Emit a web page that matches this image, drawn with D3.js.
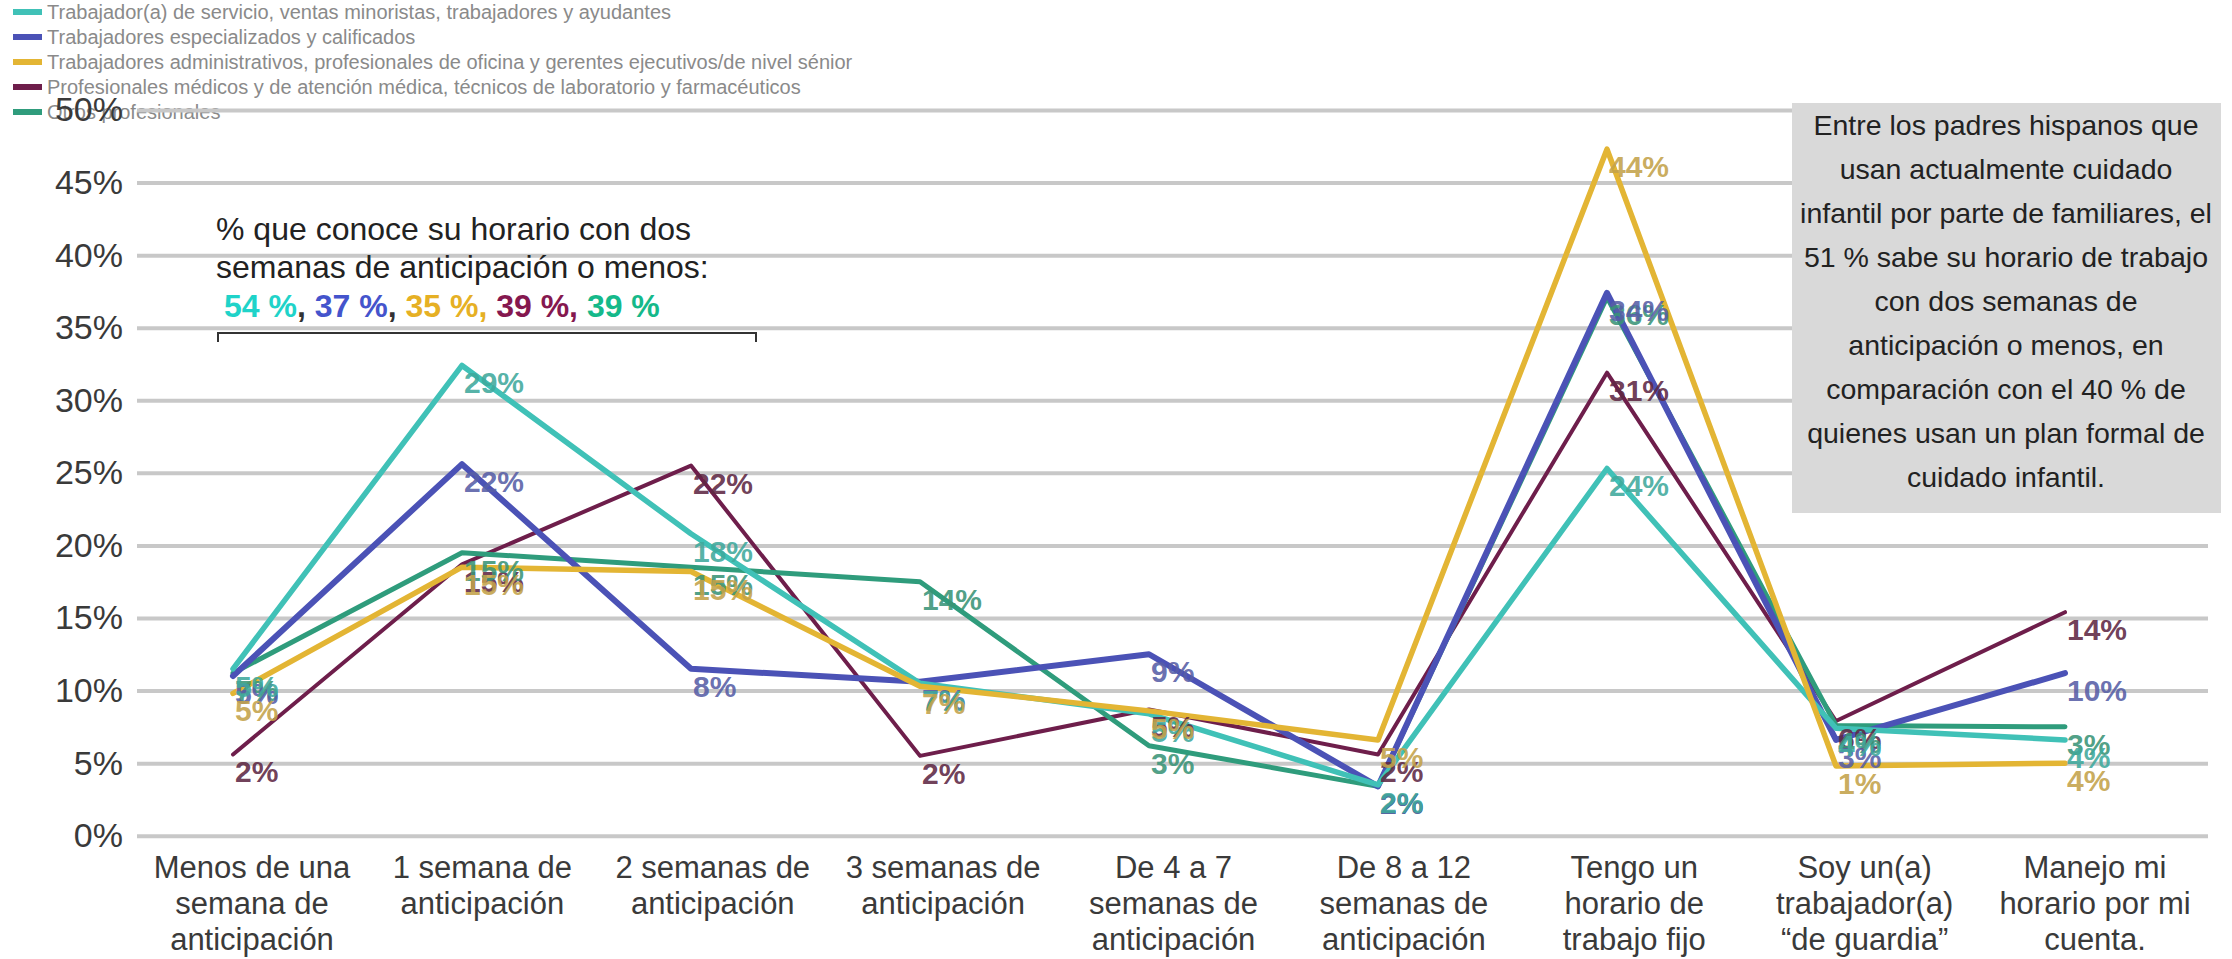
<!DOCTYPE html>
<html>
<head>
<meta charset="utf-8">
<script src="https://cdn.jsdelivr.net/npm/d3@7"></script>
<style>
  body { margin: 0; background: #fff; }
  svg { display: block; font-family: "Liberation Sans", Arial, sans-serif; }
</style>
</head>
<body>
<div id="chart"></div>
<script>
// categories (x axis), one array of lines per label
const categories = [
  ["Menos de una", "semana de", "anticipación"],
  ["1 semana de", "anticipación"],
  ["2 semanas de", "anticipación"],
  ["3 semanas de", "anticipación"],
  ["De 4 a 7", "semanas de", "anticipación"],
  ["De 8 a 12", "semanas de", "anticipación"],
  ["Tengo un", "horario de", "trabajo fijo"],
  ["Soy un(a)", "trabajador(a)", "“de guardia”"],
  ["Manejo mi", "horario por mi", "cuenta."]
];

const seriesNames = [
  "Trabajador(a) de servicio, ventas minoristas, trabajadores y ayudantes",
  "Trabajadores especializados y calificados",
  "Trabajadores administrativos, profesionales de oficina y gerentes ejecutivos/de nivel sénior",
  "Profesionales médicos y de atención médica, técnicos de laboratorio y farmacéuticos",
  "Otros profesionales"
];

// plotted values (%)
const serviceValues = [11.5, 32.4, 20.8, 10.5, 8.4, 3.5, 25.3, 7.4, 6.6];
const skilledValues = [11.0, 25.6, 11.5, 10.6, 12.5, 3.4, 37.4, 6.6, 11.2];
const adminValues   = [9.8, 18.5, 18.2, 10.3, 8.6, 6.6, 47.3, 4.8, 5.0];
const medicalValues = [5.6, 18.7, 25.5, 5.5, 8.7, 5.6, 31.9, 7.9, 15.4];
const otherValues   = [11.2, 19.5, 18.5, 17.5, 6.2, 3.4, 37.1, 7.6, 7.5];

// data labels as printed on the chart
const serviceLabels = ["5%", "29%", "18%", "7%", "5%", "2%", "24%", "4%", "4%"];
const skilledLabels = ["5%", "22%", "8%", "7%", "9%", "2%", "34%", "3%", "10%"];
const adminLabels   = ["5%", "15%", "15%", "7%", "5%", "5%", "44%", "1%", "4%"];
const medicalLabels = ["2%", "15%", "22%", "2%", "5%", "2%", "31%", "6%", "14%"];
const otherLabels   = ["7%", "15%", "15%", "14%", "3%", "2%", "36%", "4%", "3%"];

const yTicks = [0, 5, 10, 15, 20, 25, 30, 35, 40, 45, 50];

const noteLines = ["% que conoce su horario con dos", "semanas de anticipación o menos:"];
const notePercents = ["54 %", "37 %", "35 %", "39 %", "39 %"];

const boxLines = [
  "Entre los padres hispanos que",
  "usan actualmente cuidado",
  "infantil por parte de familiares, el",
  "51 % sabe su horario de trabajo",
  "con dos semanas de",
  "anticipación o menos, en",
  "comparación con el 40 % de",
  "quienes usan un plan formal de",
  "cuidado infantil."
];

const lineColors  = ["#40c1b7", "#4b52b6", "#e3b534", "#6e1e4b", "#2f9c7c"];
const labelColors = ["#3fa99c", "#575ea6", "#c3a24a", "#5e2844", "#3a9477"];
const noteColors  = ["#1fd3c9", "#4454cc", "#e6b024", "#85184f", "#15b98a"];
const strokeW     = [5.5, 6, 5.5, 4, 5];

const series = [
  { values: serviceValues, labels: serviceLabels },
  { values: skilledValues, labels: skilledLabels },
  { values: adminValues,   labels: adminLabels },
  { values: medicalValues, labels: medicalLabels },
  { values: otherValues,   labels: otherLabels }
].map((s, i) => ({ ...s, name: seriesNames[i], idx: i }));

const width = 2232, height = 959;
const svg = d3.select("#chart").append("svg")
  .attr("width", width).attr("height", height);

const x = d3.scalePoint().domain(d3.range(categories.length)).range([233, 2065]);
// category text sits a little right of the points in the original
const xLabel = d3.scalePoint().domain(d3.range(categories.length)).range([252, 2095]);
const y = d3.scaleLinear().domain([0, 50]).range([835.7, 110]);

// gridlines + y labels
const gridLeft = 137, gridRight = 2208;
const yAxis = svg.append("g")
  .attr("transform", `translate(${gridLeft},0)`)
  .call(d3.axisLeft(y).tickValues(yTicks)
    .tickSize(-(gridRight - gridLeft)).tickPadding(14)
    .tickFormat(d => d + "%"));
yAxis.select(".domain").remove();
yAxis.selectAll(".tick line").attr("stroke", "#c8c8c8").attr("stroke-width", 4);
yAxis.selectAll(".tick text")
  .attr("font-size", 34).attr("fill", "#3a3a3a")
  .attr("font-family", "Liberation Sans, Arial, sans-serif");

// legend
const legend = svg.append("g");
seriesNames.forEach((name, i) => {
  const ly = 12 + i * 25;
  legend.append("rect")
    .attr("x", 13).attr("y", ly - 3).attr("width", 29).attr("height", 6)
    .attr("fill", lineColors[i]);
  legend.append("text")
    .attr("x", 47).attr("y", ly).attr("dy", "0.35em")
    .attr("font-size", 20).attr("fill", "#8a8a8a")
    .text(name);
});
// keep the 50% label above the legend like the original
yAxis.raise();

// category labels
const catG = svg.append("g");
categories.forEach((lines, i) => {
  const t = catG.append("text")
    .attr("x", xLabel(i)).attr("y", 878)
    .attr("text-anchor", "middle")
    .attr("font-size", 31).attr("fill", "#3a3a3a");
  lines.forEach((ln, j) => {
    t.append("tspan").attr("x", xLabel(i)).attr("dy", j === 0 ? 0 : 36).text(ln);
  });
});

// lines
const line = d3.line().x((d, i) => x(i)).y(d => y(d));
const drawOrder = [3, 4, 1, 0, 2];
svg.append("g").selectAll("path")
  .data(drawOrder.map(i => series[i]))
  .join("path")
  .attr("d", d => line(d.values))
  .attr("fill", "none")
  .attr("stroke", d => lineColors[d.idx])
  .attr("stroke-width", d => strokeW[d.idx])
  .attr("stroke-linejoin", "round")
  .attr("stroke-linecap", "round");

// data labels
const lblG = svg.append("g");
drawOrder.forEach(si => {
  const s = series[si];
  s.values.forEach((v, i) => {
    lblG.append("text")
      .attr("x", x(i) + 2).attr("y", y(v) + 28)
      .attr("font-size", 30).attr("font-weight", "bold")
      .attr("fill", labelColors[si]).attr("fill-opacity", 0.9)
      .text(s.labels[i]);
  });
});

// note on the left
const note = svg.append("g");
noteLines.forEach((ln, i) => {
  note.append("text")
    .attr("x", 216).attr("y", 240 + i * 38)
    .attr("font-size", 32).attr("fill", "#222")
    .text(ln);
});
const pct = note.append("text")
  .attr("x", 224).attr("y", 317)
  .attr("font-size", 32).attr("font-weight", "bold");
notePercents.forEach((p, i) => {
  pct.append("tspan").attr("fill", noteColors[i]).text(p);
  if (i < notePercents.length - 1) {
    pct.append("tspan").attr("fill", i < 2 ? "#333" : noteColors[i]).text(", ");
  }
});
note.append("path")
  .attr("d", "M218,342V333H756V342")
  .attr("fill", "none").attr("stroke", "#333").attr("stroke-width", 2);

// grey box on the right
const box = svg.append("g");
box.append("rect")
  .attr("x", 1792).attr("y", 103).attr("width", 429).attr("height", 410)
  .attr("fill", "#d9d9d9");
boxLines.forEach((ln, i) => {
  box.append("text")
    .attr("x", 2006).attr("y", 135 + i * 44)
    .attr("text-anchor", "middle")
    .attr("font-size", 28.5).attr("fill", "#222")
    .text(ln);
});
</script>
</body>
</html>
